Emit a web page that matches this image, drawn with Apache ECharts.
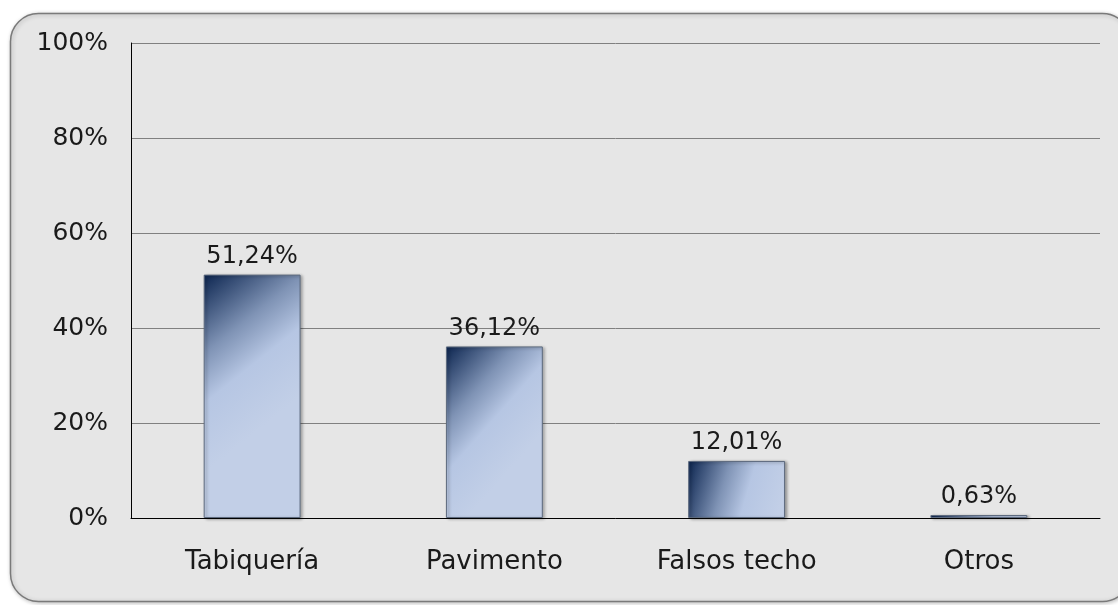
<!DOCTYPE html>
<html><head><meta charset="utf-8">
<script src="https://cdn.jsdelivr.net/npm/echarts@6/dist/echarts.min.js"></script>
<style>html,body{margin:0;padding:0;background:#fff}#c{width:1118px;height:605px}</style>
</head><body><div id="c"></div>
<script>
const categories = ['Tabiquería', 'Pavimento', 'Falsos techo', 'Otros'];
const values = [51.24, 36.12, 12.01, 0.63];
const valueLabels = ['51,24%', '36,12%', '12,01%', '0,63%'];
const yTicks = [0, 20, 40, 60, 80, 100];

const chart = echarts.init(document.getElementById('c'));
const font = '"DejaVu Sans", sans-serif';
chart.setOption({
  animation: false,
  graphic: [{
    type: 'rect', z: -10, silent: true,
    shape: { x: 10.5, y: 13.5, width: 1120, height: 588, r: 28 },
    style: { fill: '#e6e6e6', stroke: '#7a7a7a', lineWidth: 1.5, shadowBlur: 4, shadowColor: 'rgba(0,0,0,0.25)', shadowOffsetX: 1, shadowOffsetY: 1 }
  }],
  grid: { left: 131, right: 18, top: 43, bottom: 87 },
  xAxis: {
    type: 'category', data: categories,
    axisLine: { show: true, lineStyle: { color: '#000', width: 1 } },
    axisTick: { show: false },
    axisLabel: { color: '#1a1a1a', fontSize: 26, fontFamily: font, margin: 31 }
  },
  yAxis: {
    type: 'value', min: 0, max: 100, interval: 20,
    axisLine: { show: true, lineStyle: { color: '#000', width: 1 } },
    axisTick: { show: false },
    splitLine: { lineStyle: { color: '#808080', width: 1 } },
    axisLabel: {
      color: '#1a1a1a', fontSize: 25, fontFamily: font, margin: 23,
      formatter: v => yTicks.includes(v) ? v + '%' : ''
    }
  },
  series: [{
    type: 'bar', barWidth: '40%',
    data: values,
    itemStyle: {
      color: {
        type: 'linear', x: 0, y: 0, x2: 1, y2: 0.5,
        colorStops: [
          { offset: 0, color: '#0c2550' },
          { offset: 0.4, color: '#7f93b5' },
          { offset: 0.65, color: '#b6c6e3' },
          { offset: 1, color: '#c2cfe7' }
        ]
      },
      borderColor: '#5d6a7e', borderWidth: 1,
      shadowColor: 'rgba(0,0,0,0.35)', shadowBlur: 3, shadowOffsetX: 2, shadowOffsetY: 1
    },
    label: {
      show: true, position: 'top', distance: 6,
      color: '#1a1a1a', fontSize: 24, fontFamily: font,
      formatter: p => valueLabels[p.dataIndex]
    }
  }]
});
</script></body></html>
